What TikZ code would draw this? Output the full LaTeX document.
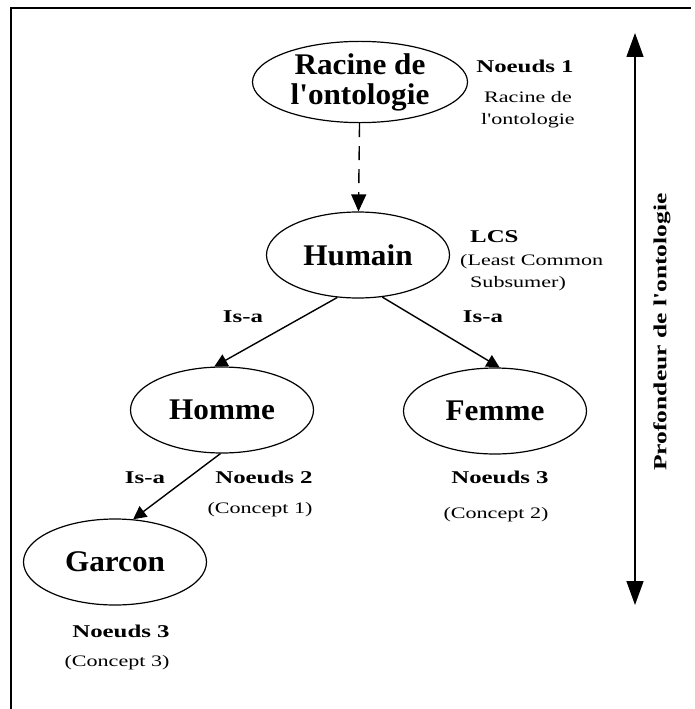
\documentclass[tikz,border=0pt]{standalone}
\usepackage{fontspec}
\setmainfont{Liberation Serif}
\newfontfamily\conceptfont{Liberation Serif}[FakeStretch=1.04]
\newfontfamily\notefont{Liberation Serif}[FakeStretch=1.38]
\usepackage{tikz}
\usetikzlibrary{shapes.geometric, arrows.meta, positioning}

\tikzset{
  concept/.style={draw, ellipse, line width=1.2pt, minimum width=183pt, minimum height=86pt,
    inner sep=0pt, font=\conceptfont\fontsize{30}{30}\selectfont\bfseries},
  note/.style={inner sep=0pt, align=center, font=\notefont\fontsize{16}{22}\selectfont},
  tag/.style={inner sep=0pt, font=\notefont\fontsize{18}{22}\selectfont\bfseries},
  isa/.style={-{Triangle[length=13pt,width=13pt]}, line width=1.4pt},
}

\begin{document}
\begin{tikzpicture}[x=1pt, y=-1pt]
  \useasboundingbox (0,0) rectangle (694,709);
  \draw[line width=2pt] (11,709) -- (11,8) -- (691,8);

  % concepts of the ontology
  \node[concept, minimum width=215pt, minimum height=77pt, align=center] (racine) at (360,82) {Racine de\\l'ontologie};
  \node[concept] (humain) at (358,255) {Humain};
  \node[concept] (homme) at (222,410) {Homme};
  \node[concept] (femme) at (495,411) {Femme};
  \node[concept] (garcon) at (115,562) {Garcon};

  % links
  \draw[line width=1.4pt, dash pattern=on 14pt off 9pt, -{Triangle[length=17pt,width=15pt]}] (racine) -- (humain);
  \draw[isa] (humain.244) -- (homme.100);
  \draw[isa] (humain.300) -- (femme.84);
  \draw[isa] (homme.268) -- (garcon.67);

  \node[tag, anchor=base] (isa1) at (243,322) {Is-a};
  \node[tag, anchor=base] (isa2) at (483,322) {Is-a};
  \node[tag, anchor=base] (isa3) at (145,483) {Is-a};

  % notes
  \node[tag, anchor=base] (noeud1) at (525,73) {Noeuds 1};
  \node[note, anchor=base] (racinenote) at (528,124) {Racine de\\l'ontologie};
  \node[tag, anchor=base west] (lcs) at (470,242) {LCS};
  \node[note, align=left, anchor=base west] (lcsnote) at (460,287) {(Least Common\\\hspace*{10pt}Subsumer)};
  \node[tag, anchor=base] (noeud2) at (264,483) {Noeuds 2};
  \node[note, anchor=base] (concept1) at (260,513) {(Concept 1)};
  \node[tag, anchor=base] (noeud3) at (500,483) {Noeuds 3};
  \node[note, anchor=base] (concept2) at (496,518) {(Concept 2)};
  \node[tag, anchor=base] (noeud4) at (121,637) {Noeuds 3};
  \node[note, anchor=base] (concept3) at (117,666) {(Concept 3)};

  % depth of the ontology
  \coordinate (haut) at (635,33);
  \coordinate (bas) at (635,605);
  \draw[{Triangle[length=24pt,width=17pt]}-{Triangle[length=24pt,width=17pt]}, line width=1.4pt] (haut) -- (bas);
  \node[tag, rotate=90, font=\notefont\fontsize{18.5}{22}\selectfont\bfseries] (profondeur) at (662,332) {Profondeur de l'ontologie};
\end{tikzpicture}
\end{document}
